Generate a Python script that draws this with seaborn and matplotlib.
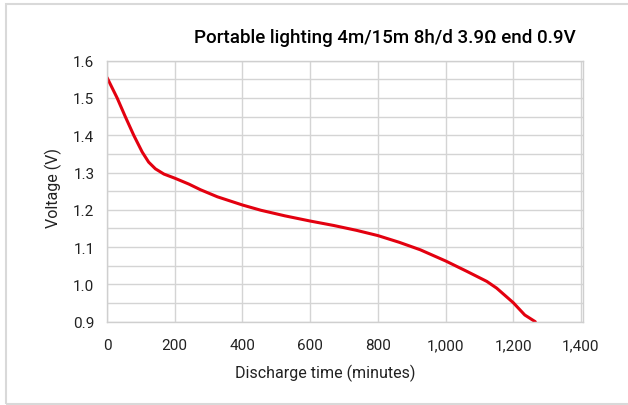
import matplotlib
matplotlib.use("Agg")
import matplotlib.pyplot as plt
from matplotlib.patches import Rectangle
from matplotlib.ticker import MultipleLocator, FuncFormatter
import seaborn as sns
import pandas as pd

# Data
time_min = [0, 30, 54, 79, 104, 123, 143, 168, 200, 242, 276, 326, 400, 454,
            525, 600, 670, 737, 800, 863, 925, 1000, 1063, 1122, 1151, 1200,
            1234, 1265]
voltage = [1.555, 1.50, 1.45, 1.40, 1.355, 1.328, 1.31, 1.296, 1.285, 1.269,
           1.254, 1.235, 1.213, 1.199, 1.184, 1.170, 1.158, 1.145, 1.131,
           1.113, 1.093, 1.063, 1.035, 1.008, 0.99, 0.951, 0.918, 0.9]
x_ticks = [0, 200, 400, 600, 800, 1000, 1200, 1400]
y_ticks = [0.9, 1.0, 1.1, 1.2, 1.3, 1.4, 1.5, 1.6]
title = "Portable lighting 4m/15m 8h/d 3.9Ω end 0.9V"
x_label = "Discharge time (minutes)"
y_label = "Voltage (V)"

df = pd.DataFrame({"time": time_min, "voltage": voltage})

sns.set_theme(style="whitegrid")
plt.rcParams["font.family"] = ["Roboto", "DejaVu Sans"]

fig = plt.figure(figsize=(6.28, 4.06), dpi=100)
ax = fig.add_axes([107 / 628, 1 - 322.7 / 406, (583 - 107) / 628, (322.7 - 61.7) / 406])

sns.lineplot(data=df, x="time", y="voltage", ax=ax, color="#e3000f",
             linewidth=2.2, sort=False, estimator=None)

ax.set_xlim(0, 1406)
ax.set_ylim(0.9, 1.6)
ax.set_xticks(x_ticks)
ax.set_yticks(y_ticks)
ax.yaxis.set_minor_locator(MultipleLocator(0.05))
ax.xaxis.set_major_formatter(FuncFormatter(lambda v, p: f"{int(v):,}"))
ax.yaxis.set_major_formatter(FuncFormatter(lambda v, p: f"{v:.1f}"))
ax.grid(True, which="major", axis="both", color="#d4d4d4", linewidth=1.0)
ax.grid(True, which="minor", axis="y", color="#d4d4d4", linewidth=1.0)
ax.set_axisbelow(True)
for s in ax.spines.values():
    s.set_color("#cfcfcf")
    s.set_linewidth(1.0)
ax.tick_params(axis="both", which="both", length=0, labelsize=11, colors="#222222")
ax.tick_params(axis="x", pad=12)
ax.tick_params(axis="y", pad=9)
ax.set_xlabel("")
ax.set_ylabel("")

fig.text(384.5 / 628, 1 - 43 / 406, title, ha="center", va="baseline",
         fontsize=13.5, fontweight="medium", color="#000000")
fig.text(325 / 628, 1 - 373 / 406, x_label, ha="center", va="center",
         fontsize=11.5, color="#222222")
fig.text(53 / 628, 1 - 188 / 406, y_label, ha="center", va="center",
         rotation=90, fontsize=11.5, color="#222222")

fig.patches.append(Rectangle((6 / 628, 1 / 406), 1.2, 400 / 406,
                             transform=fig.transFigure, fill=False,
                             edgecolor="#d9d9d9", linewidth=1.5))

fig.savefig("out.png", dpi=100)
